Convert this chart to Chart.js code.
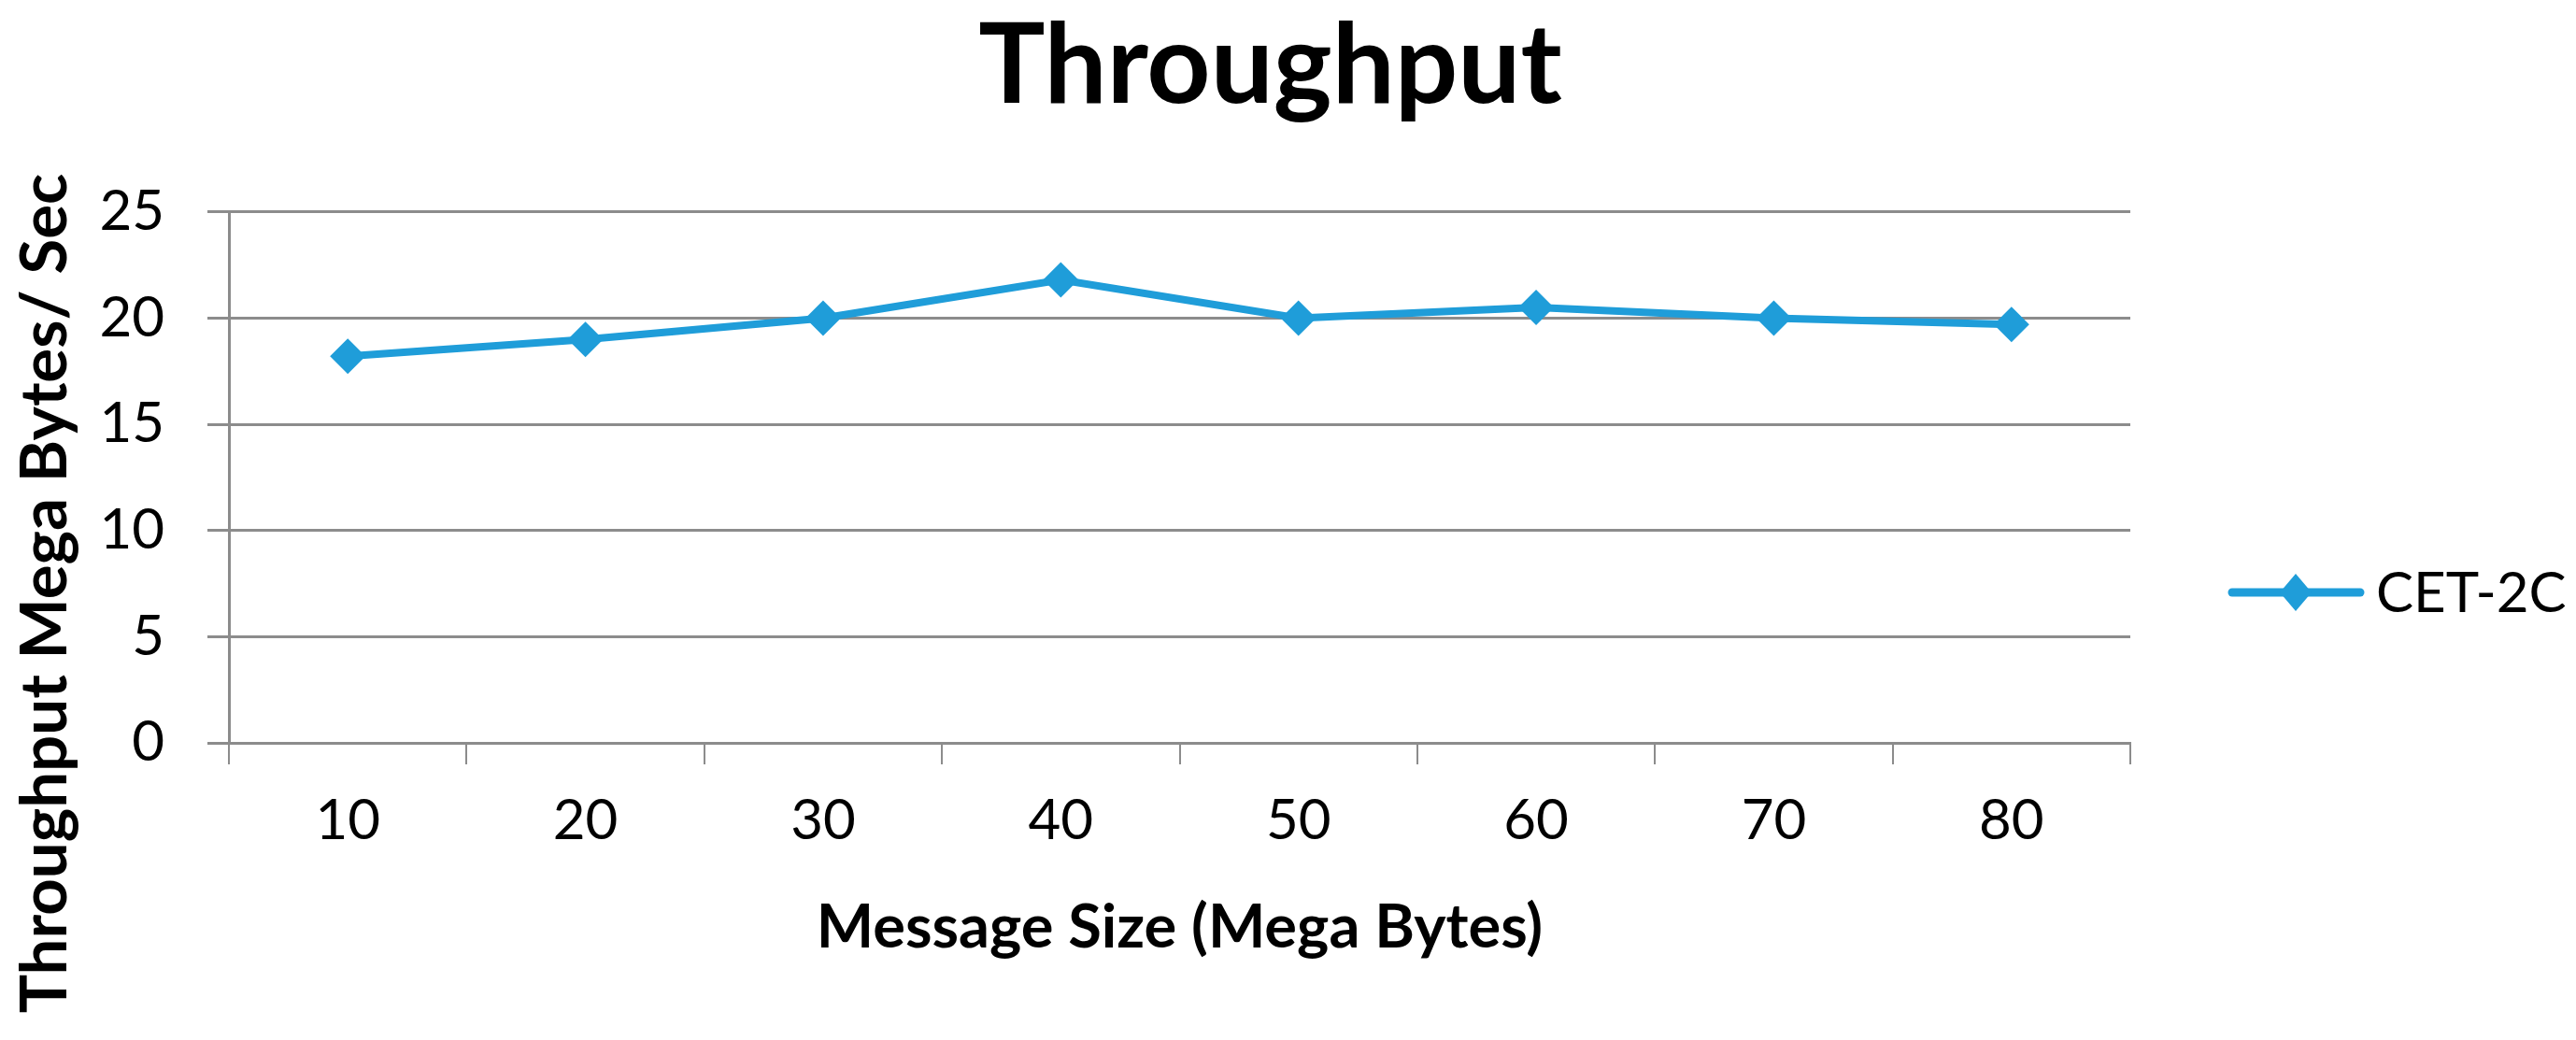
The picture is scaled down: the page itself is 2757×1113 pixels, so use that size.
<!DOCTYPE html>
<html>
<head>
<meta charset="utf-8">
<script src="https://cdn.jsdelivr.net/npm/chart.js@4/dist/chart.umd.min.js"></script>
<style>
  html, body { margin: 0; padding: 0; background: #fff; }
  canvas { display: block; }
</style>
</head>
<body>
<canvas id="throughputChart" width="2757" height="1113"></canvas>
<script>
const messageSizes = ['10', '20', '30', '40', '50', '60', '70', '80'];
const throughput = [18.2, 19.0, 20.0, 21.8, 20.0, 20.5, 20.0, 19.7];
const seriesName = 'CET-2C';
const chartTitle = 'Throughput';
const xAxisTitle = 'Message Size (Mega Bytes)';
const yAxisTitle = 'Throughput Mega Bytes/ Sec';

const lineColor = '#1F9DD9';
const gridColor = '#8C8C8C';
const fontFamily = 'Lato, "Open Sans", sans-serif';

// rotated y title, placed where the original sits (a bit below the plot centre)
const yTitlePlugin = {
    id: 'yTitle',
    afterDraw(chart) {
        const ctx = chart.ctx;
        ctx.save();
        ctx.translate(49, 635);
        ctx.rotate(-Math.PI / 2);
        ctx.font = 'bold 69px ' + fontFamily;
        ctx.fillStyle = '#000';
        ctx.textAlign = 'center';
        ctx.textBaseline = 'middle';
        ctx.fillText(yAxisTitle, 0, 0);
        ctx.restore();
    }
};

// legend: line with a diamond in the middle, then the series name
const legendPlugin = {
    id: 'lineLegend',
    afterDraw(chart) {
        const ctx = chart.ctx;
        const ds = chart.data.datasets[0];
        const y = 634;
        ctx.save();
        ctx.strokeStyle = ds.borderColor;
        ctx.lineWidth = 9;
        ctx.lineCap = 'round';
        ctx.beginPath();
        ctx.moveTo(2389, y);
        ctx.lineTo(2526, y);
        ctx.stroke();
        ctx.fillStyle = ds.borderColor;
        ctx.beginPath();
        ctx.moveTo(2457, y - 20);
        ctx.lineTo(2474, y);
        ctx.lineTo(2457, y + 20);
        ctx.lineTo(2440, y);
        ctx.closePath();
        ctx.fill();
        ctx.font = '60px ' + fontFamily;
        ctx.fillStyle = '#000';
        ctx.textAlign = 'left';
        ctx.textBaseline = 'middle';
        ctx.fillText(ds.label, 2543, y + 2);
        ctx.restore();
    }
};

const ctx = document.getElementById('throughputChart').getContext('2d');
const throughputChart = new Chart(ctx, {
    type: 'line',
    data: {
        labels: messageSizes,
        datasets: [{
            label: seriesName,
            data: throughput,
            borderColor: lineColor,
            backgroundColor: lineColor,
            borderWidth: 8,
            tension: 0,
            pointStyle: 'rectRot',
            pointRadius: 19,
            pointHoverRadius: 19,
            pointBackgroundColor: lineColor,
            pointBorderColor: lineColor,
            pointBorderWidth: 0
        }]
    },
    options: {
        responsive: false,
        animation: false,
        layout: {
            padding: { left: 0, right: 38, top: 0, bottom: 0 }
        },
        plugins: {
            legend: { display: false },
            tooltip: { enabled: false },
            title: {
                display: true,
                text: chartTitle,
                color: '#000',
                font: { family: fontFamily, size: 119, weight: 'bold' },
                padding: { top: 0, bottom: 84 }
            }
        },
        scales: {
            x: {
                offset: true,
                afterFit: function(scale) { scale.height = 318; },
                grid: {
                    offset: true,
                    drawOnChartArea: false,
                    drawTicks: true,
                    tickLength: 23,
                    color: gridColor,
                    lineWidth: 2
                },
                border: { display: true, color: gridColor, width: 3 },
                ticks: {
                    color: '#000',
                    padding: 25,
                    font: { family: fontFamily, size: 60 }
                },
                title: {
                    display: true,
                    text: xAxisTitle,
                    color: '#000',
                    font: { family: fontFamily, size: 65, weight: 'bold' },
                    padding: { top: 0, bottom: 81 }
                }
            },
            y: {
                min: 0,
                max: 25,
                afterFit: function(scale) { scale.width = 245; },
                ticks: {
                    stepSize: 5,
                    color: '#000',
                    padding: 46,
                    font: { family: fontFamily, size: 60 }
                },
                grid: {
                    color: gridColor,
                    lineWidth: 3,
                    tickLength: 23
                },
                border: { display: true, color: gridColor, width: 3 }
            },
            // empty right-hand axis that only reserves room for the legend
            legendSpace: {
                position: 'right',
                display: true,
                afterFit: function(scale) { scale.width = 439; },
                ticks: { display: false },
                grid: { display: false, drawTicks: false },
                border: { display: false }
            }
        }
    },
    plugins: [yTitlePlugin, legendPlugin]
});
</script>
</body>
</html>
